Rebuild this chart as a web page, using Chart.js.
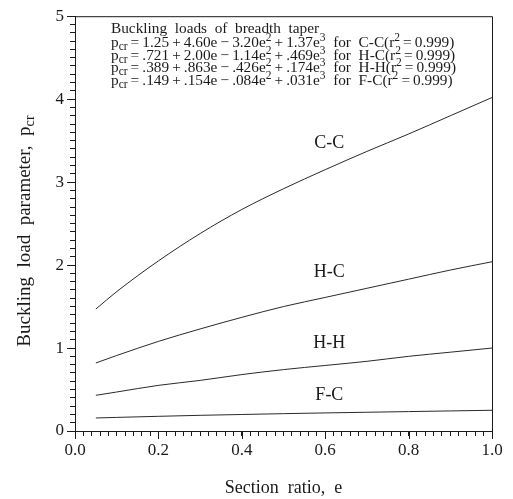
<!DOCTYPE html>
<html>
<head>
<meta charset="utf-8">
<script src="https://cdn.jsdelivr.net/npm/chart.js@4.4.1/dist/chart.umd.min.js"></script>
<style>
  html, body { margin: 0; padding: 0; background: #fff; }
  #chart { display: block; }
</style>
</head>
<body>
<canvas id="chart" width="513" height="499"></canvas>
<script>
const sectionRatio = [0.05, 0.1, 0.2, 0.3, 0.4, 0.5, 0.6, 0.7, 0.8, 0.9, 1.0];
const loadCC = [1.47, 1.68, 2.05, 2.38, 2.67, 2.92, 3.15, 3.37, 3.58, 3.80, 4.02];
const loadHC = [0.82, 0.91, 1.08, 1.23, 1.37, 1.50, 1.61, 1.72, 1.83, 1.94, 2.04];
const loadHH = [0.43, 0.47, 0.55, 0.61, 0.68, 0.74, 0.79, 0.84, 0.90, 0.95, 1.00];
const loadFC = [0.157, 0.164, 0.177, 0.189, 0.199, 0.209, 0.218, 0.226, 0.234, 0.242, 0.25];

const xTickLabels = ['0.0', '0.2', '0.4', '0.6', '0.8', '1.0'];
const yTickLabels = ['0', '1', '2', '3', '4', '5'];

const curveLabels = [
  { text: 'C-C', e: 0.61, p: 3.47 },
  { text: 'H-C', e: 0.61, p: 1.91 },
  { text: 'H-H', e: 0.61, p: 1.06 },
  { text: 'F-C', e: 0.61, p: 0.43 },
];

// thin spaces around the operators, like the typeset original
const T = '\u2009';
const noteLines = [
  'Buckling  loads  of  breadth  taper',
  `p_{cr}${T}=${T}1.25${T}+${T}4.60e${T}\u2212${T}3.20e^{2}${T}+${T}1.37e^{3}  for  C-C(r^{2}${T}=${T}0.999)`,
  `p_{cr}${T}=${T}.721${T}+${T}2.00e${T}\u2212${T}1.14e^{2}${T}+${T}.469e^{3}  for  H-C(r^{2}${T}=${T}0.999)`,
  `p_{cr}${T}=${T}.389${T}+${T}.863e${T}\u2212${T}.426e^{2}${T}+${T}.174e^{3}  for  H-H(r^{2}${T}=${T}0.999)`,
  `p_{cr}${T}=${T}.149${T}+${T}.154e${T}\u2212${T}.084e^{2}${T}+${T}.031e^{3}  for  F-C(r^{2}${T}=${T}0.999)`,
];

const FONT = '"Liberation Serif", "DejaVu Serif", serif';
const INK = '#1a1a1a';

function parseRich(str) {
  const parts = [];
  const re = /([_^])\{([^}]*)\}/g;
  let last = 0;
  let m;
  while ((m = re.exec(str)) !== null) {
    if (m.index > last) parts.push({ t: str.slice(last, m.index), mode: 'base' });
    parts.push({ t: m[2], mode: m[1] === '_' ? 'sub' : 'sup' });
    last = re.lastIndex;
  }
  if (last < str.length) parts.push({ t: str.slice(last), mode: 'base' });
  return parts;
}

function richWidth(ctx, str, size) {
  let w = 0;
  parseRich(str).forEach((p) => {
    ctx.font = `${p.mode === 'base' ? size : size * 0.75}px ${FONT}`;
    w += ctx.measureText(p.t).width;
  });
  return w;
}

function drawRich(ctx, str, x, y, size) {
  let cx = x;
  parseRich(str).forEach((p) => {
    const s = p.mode === 'base' ? size : size * 0.75;
    const dy = p.mode === 'sub' ? size * 0.2 : p.mode === 'sup' ? -size * 0.38 : 0;
    ctx.font = `${s}px ${FONT}`;
    ctx.fillText(p.t, cx, y + dy);
    cx += ctx.measureText(p.t).width;
  });
  return cx - x;
}

function isMultiple(v, step) {
  const q = v / step;
  return Math.abs(q - Math.round(q)) < 1e-6;
}

const decorPlugin = {
  id: 'decor',
  afterDraw(chart) {
    const { ctx, chartArea: a, scales } = chart;
    ctx.save();

    // frame top and right
    ctx.strokeStyle = INK;
    ctx.lineWidth = 1;
    ctx.beginPath();
    ctx.moveTo(a.left, a.top + 0.5);
    ctx.lineTo(a.right + 0.5, a.top + 0.5);
    ctx.lineTo(a.right + 0.5, a.bottom);
    ctx.stroke();

    // longer major ticks
    ctx.beginPath();
    for (let i = 0; i < xTickLabels.length; i++) {
      const px = Math.round(scales.x.getPixelForValue(parseFloat(xTickLabels[i]))) + 0.5;
      ctx.moveTo(px, a.bottom);
      ctx.lineTo(px, a.bottom + 8);
    }
    for (let i = 0; i < yTickLabels.length; i++) {
      const py = Math.round(scales.y.getPixelForValue(parseFloat(yTickLabels[i]))) + 0.5;
      ctx.moveTo(a.left, py);
      ctx.lineTo(a.left - 8, py);
    }
    ctx.stroke();

    ctx.fillStyle = INK;
    ctx.textBaseline = 'alphabetic';
    ctx.textAlign = 'left';

    // equations box
    const lineY = [33, 47, 60, 72, 85];
    noteLines.forEach((line, i) => drawRich(ctx, line, 111, lineY[i], 15.3));

    // curve labels
    ctx.textAlign = 'center';
    ctx.textBaseline = 'middle';
    ctx.font = `18px ${FONT}`;
    curveLabels.forEach((l) => {
      ctx.fillText(l.text, scales.x.getPixelForValue(l.e), scales.y.getPixelForValue(l.p));
    });

    // y axis title with subscript
    ctx.translate(30, 231);
    ctx.rotate(-Math.PI / 2);
    ctx.textAlign = 'left';
    ctx.textBaseline = 'alphabetic';
    const title = 'Buckling  load  parameter,  p_{cr}';
    const w = richWidth(ctx, title, 19);
    drawRich(ctx, title, -w / 2, 0, 19);

    ctx.restore();
  },
};

new Chart(document.getElementById('chart'), {
  type: 'line',
  data: {
    datasets: [loadCC, loadHC, loadHH, loadFC].map((vals) => ({
      data: sectionRatio.map((e, i) => ({ x: e, y: vals[i] })),
      borderColor: '#2a2a2a',
      borderWidth: 1,
      pointRadius: 0,
      fill: false,
      cubicInterpolationMode: 'monotone',
    })),
  },
  options: {
    responsive: false,
    animation: false,
    layout: { padding: { top: 15, right: 21, left: 0, bottom: 0 } },
    plugins: { legend: { display: false }, tooltip: { enabled: false } },
    scales: {
      x: {
        type: 'linear',
        min: 0,
        max: 1,
        afterFit: (s) => { s.height = 68; },
        border: { display: true, color: INK, width: 1 },
        grid: { drawOnChartArea: false, drawTicks: true, tickLength: 5, color: INK },
        ticks: {
          stepSize: 0.02,
          autoSkip: false,
          maxTicksLimit: 100,
          maxRotation: 0,
          padding: 4,
          color: INK,
          font: { family: FONT, size: 17 },
          callback: (v) => {
            const idx = Math.round(v / 0.2);
            return isMultiple(v, 0.2) ? xTickLabels[idx] : '';
          },
        },
        title: {
          display: true,
          text: 'Section  ratio,  e',
          color: INK,
          font: { family: FONT, size: 18 },
          padding: { top: 10, bottom: 0 },
        },
      },
      y: {
        type: 'linear',
        min: 0,
        max: 5,
        afterFit: (s) => { s.width = 75; },
        border: { display: true, color: INK, width: 1 },
        grid: { drawOnChartArea: false, drawTicks: true, tickLength: 5, color: INK },
        ticks: {
          stepSize: 0.1,
          autoSkip: false,
          maxTicksLimit: 100,
          padding: 6,
          color: INK,
          font: { family: FONT, size: 17 },
          callback: (v) => (isMultiple(v, 1) ? yTickLabels[Math.round(v)] : ''),
        },
      },
    },
  },
  plugins: [decorPlugin],
});
</script>
</body>
</html>
